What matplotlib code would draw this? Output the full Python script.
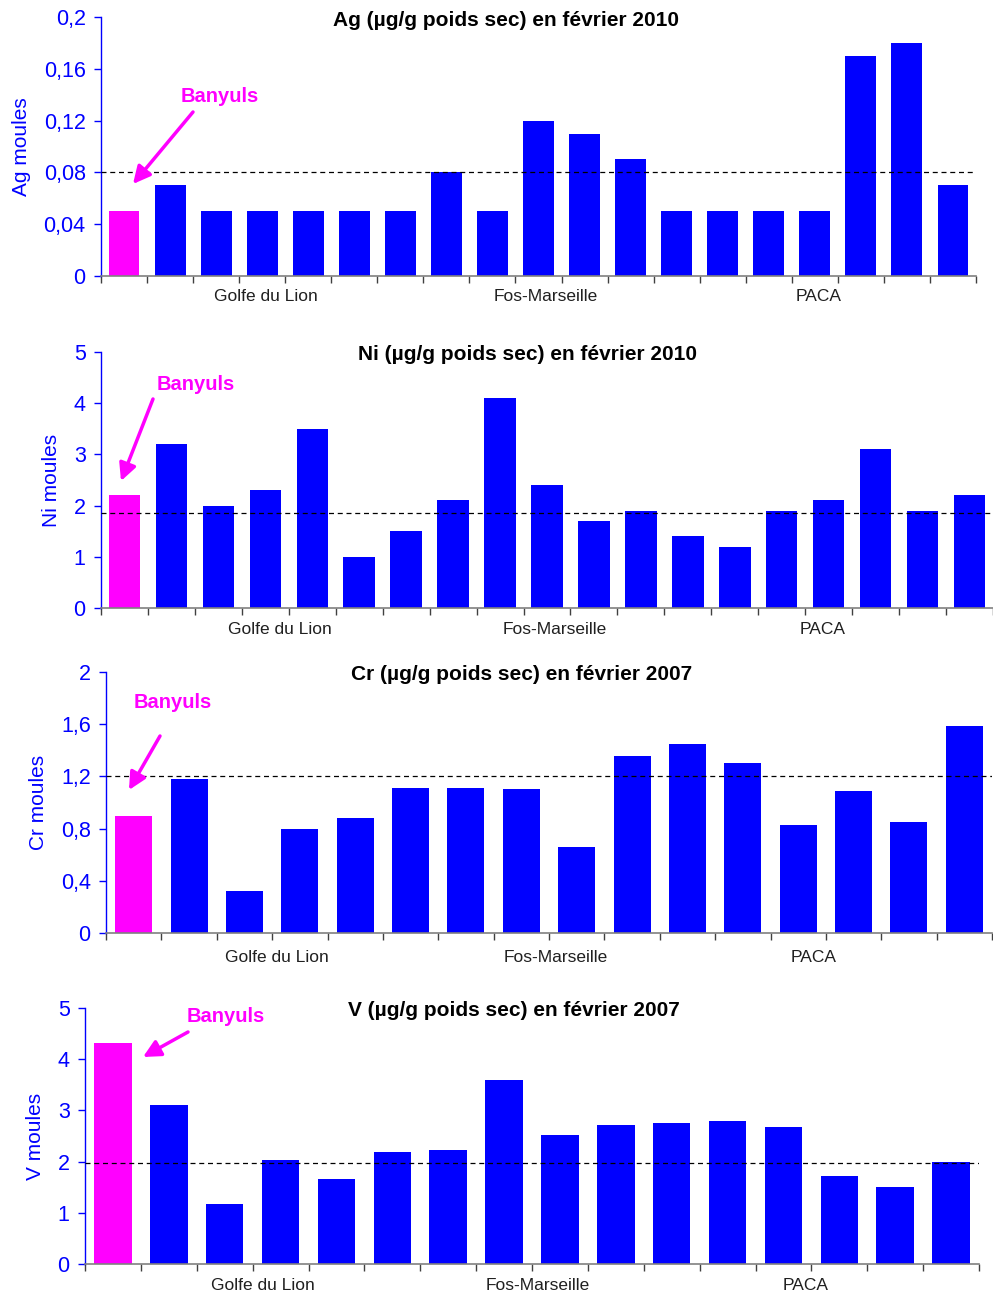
import matplotlib.pyplot as plt
import numpy as np

plt.rcParams['font.family'] = ['Liberation Sans', 'DejaVu Sans']

W, H = 993, 1295

# concentrations (µg/g poids sec), first station = Banyuls
ag_values = [0.05, 0.07, 0.05, 0.05, 0.05, 0.05, 0.05, 0.08, 0.05, 0.12,
             0.11, 0.09, 0.05, 0.05, 0.05, 0.05, 0.17, 0.18, 0.07]
ni_values = [2.2, 3.2, 2.0, 2.3, 3.5, 1.0, 1.5, 2.1, 4.1, 2.4,
             1.7, 1.9, 1.4, 1.2, 1.9, 2.1, 3.1, 1.9, 2.2]
cr_values = [0.90, 1.18, 0.32, 0.80, 0.88, 1.11, 1.11, 1.10, 0.66, 1.36,
             1.45, 1.30, 0.83, 1.09, 0.85, 1.59]
v_values = [4.32, 3.11, 1.17, 2.03, 1.66, 2.19, 2.23, 3.59, 2.52, 2.71,
            2.75, 2.79, 2.68, 1.72, 1.50, 1.99]

# reference levels (dashed lines)
ag_ref = 0.08
ni_ref = 1.85
cr_ref = 1.2
v_ref = 1.98

regions = ["Golfe du Lion", "Fos-Marseille", "PACA"]

ag_title = "Ag (µg/g poids sec) en février 2010"
ni_title = "Ni (µg/g poids sec) en février 2010"
cr_title = "Cr (µg/g poids sec) en février 2007"
v_title = "V (µg/g poids sec) en février 2007"

ag_ticks = [0, 0.04, 0.08, 0.12, 0.16, 0.2]
ag_ticklabels = ["0", "0,04", "0,08", "0,12", "0,16", "0,2"]
ni_ticks = [0, 1, 2, 3, 4, 5]
ni_ticklabels = ["0", "1", "2", "3", "4", "5"]
cr_ticks = [0, 0.4, 0.8, 1.2, 1.6, 2.0]
cr_ticklabels = ["0", "0,4", "0,8", "1,2", "1,6", "2"]
v_ticks = [0, 1, 2, 3, 4, 5]
v_ticklabels = ["0", "1", "2", "3", "4", "5"]

BLUE = "#0000FF"
PINK = "#FF00FF"


def fx(x):
    return x / W


def fy(y):
    return 1 - y / H


panels = [
    # values, ref, ylabel, title, ticks, labels, box (l, r, t, b px),
    # title centre, region label x (px), Banyuls text, arrow tail, arrow head
    dict(vals=ag_values, ref=ag_ref, ylabel="Ag moules", title=ag_title,
         ticks=ag_ticks, labels=ag_ticklabels, box=(101, 976, 17, 276),
         tpos=(506, 20), rx=[266, 546, 819], ry=297,
         btxt=(220, 96), tail=(193, 112), head=(133, 184)),
    dict(vals=ni_values, ref=ni_ref, ylabel="Ni moules", title=ni_title,
         ticks=ni_ticks, labels=ni_ticklabels, box=(101, 993, 352, 608),
         tpos=(528, 354), rx=[280, 555, 823], ry=629,
         btxt=(196, 384), tail=(153, 399), head=(121, 481)),
    dict(vals=cr_values, ref=cr_ref, ylabel="Cr moules", title=cr_title,
         ticks=cr_ticks, labels=cr_ticklabels, box=(106, 992, 672, 933),
         tpos=(522, 675), rx=[277, 556, 814], ry=957,
         btxt=(173, 703), tail=(160, 736), head=(129, 790)),
    dict(vals=v_values, ref=v_ref, ylabel="V moules", title=v_title,
         ticks=v_ticks, labels=v_ticklabels, box=(85, 979, 1008, 1264),
         tpos=(514, 1010), rx=[263, 538, 806], ry=1285,
         btxt=(226, 1017), tail=(188, 1032), head=(143, 1057)),
]

fig = plt.figure(figsize=(W / 100, H / 100), dpi=100)

for p in panels:
    l, r, t, b = p["box"]
    ax = fig.add_axes([fx(l), fy(b), (r - l) / W, (b - t) / H])
    n = len(p["vals"])
    x = np.arange(n)
    colors = [PINK] + [BLUE] * (n - 1)
    ax.bar(x, p["vals"], width=0.67, color=colors, zorder=2)
    ax.axhline(p["ref"], color="black", lw=0.9, ls=(0, (4, 3)), zorder=3)

    ax.set_xlim(-0.5, n - 0.5)
    ax.set_ylim(p["ticks"][0], p["ticks"][-1])
    ax.set_xticks(np.arange(n + 1) - 0.5)
    ax.set_xticklabels([])
    ax.set_yticks(p["ticks"])
    ax.set_yticklabels(p["labels"])
    ax.tick_params(axis="y", colors=BLUE, labelsize=15.5, length=5,
                   width=1, direction="out", pad=6)
    ax.tick_params(axis="x", color="#404040", length=5, width=1,
                   direction="out")
    ax.set_ylabel(p["ylabel"], color=BLUE, fontsize=15, labelpad=9)

    for side in ("top", "right"):
        ax.spines[side].set_visible(False)
    ax.spines["left"].set_color(BLUE)
    ax.spines["left"].set_linewidth(1)
    ax.spines["bottom"].set_color("#808080")
    ax.spines["bottom"].set_linewidth(1.2)

    fig.text(fx(p["tpos"][0]), fy(p["tpos"][1]), p["title"], fontsize=15,
             fontweight="bold", ha="center", va="center", color="black")

    for name, px in zip(regions, p["rx"]):
        fig.text(fx(px), fy(p["ry"]), name, fontsize=12.5, ha="center",
                 va="center", color="#202020")

    fig.text(fx(p["btxt"][0]), fy(p["btxt"][1]), "Banyuls", fontsize=14.5,
             fontweight="bold", color=PINK, ha="center", va="center")
    ax.annotate("", xy=(fx(p["head"][0]), fy(p["head"][1])),
                xytext=(fx(p["tail"][0]), fy(p["tail"][1])),
                xycoords="figure fraction", textcoords="figure fraction",
                arrowprops=dict(arrowstyle="-|>", color=PINK, lw=2.5,
                                mutation_scale=26, shrinkA=0, shrinkB=0))

fig.savefig("out.png", dpi=100)
